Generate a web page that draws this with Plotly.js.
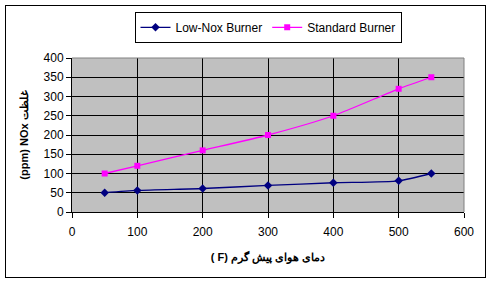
<!DOCTYPE html>
<html>
<head>
<meta charset="utf-8">
<script src="https://cdn.plot.ly/plotly-3.0.1.min.js"></script>
<style>
html,body{margin:0;padding:0;background:#fff;}
#wrap{position:relative;width:492px;height:283px;}
#chart{width:492px;height:283px;}
#frame{position:absolute;left:5px;top:5px;width:479px;height:271px;border:1px solid #000;pointer-events:none;}
</style>
</head>
<body>
<div id="wrap"><div id="chart"></div><div id="frame"></div></div>
<script>
const temps = [50, 100, 200, 300, 400, 500, 550];
const lowNox = [50, 56, 61, 69, 76, 81, 100];
const standard = [100, 120, 160, 200, 250, 320, 350];
const seriesNames = ["Low-Nox Burner", "Standard Burner"];
const xTitle = "( F) دمای هوای پیش گرم";
const yTitle = "(ppm) NOx غلظت";

const font = "Liberation Sans, Arial, sans-serif";
const traces = [
  {x: temps, y: lowNox, name: seriesNames[0], type: "scatter", mode: "lines+markers",
   line: {color: "#000080", width: 1.3, shape: "spline", smoothing: 0.6},
   marker: {symbol: "diamond", size: 6.5, color: "#000080"}},
  {x: temps, y: standard, name: seriesNames[1], type: "scatter", mode: "lines+markers",
   line: {color: "#FF00FF", width: 1.3, shape: "spline", smoothing: 0.6},
   marker: {symbol: "square", size: 6, color: "#FF00FF"}}
];
const layout = {
  width: 492, height: 283,
  margin: {l: 72, r: 28, t: 55, b: 71},
  paper_bgcolor: "#fff", plot_bgcolor: "#C0C0C0",
  font: {family: font, size: 12, color: "#000"},
  showlegend: true,
  legend: {orientation: "h", x: 0.5, xanchor: "center", y: 1.3, yanchor: "top",
    bordercolor: "#000", borderwidth: 1, bgcolor: "#fff",
    font: {family: font, size: 12, color: "#000"}, itemwidth: 30, tracegroupgap: 0},
  xaxis: {range: [0, 600], tickvals: [0,100,200,300,400,500,600], showgrid: true, gridcolor: "#000", gridwidth: 1,
    zeroline: false, showline: true, linecolor: "#000", linewidth: 1, ticks: "outside", ticklen: 5, tickcolor: "#000",
    mirror: false, tickfont: {family: font, size: 12}, ticklabelstandoff: 4,
    title: {text: xTitle, font: {family: font, size: 11, weight: "bold"}, standoff: 14}},
  yaxis: {range: [0, 400], tickvals: [0,50,100,150,200,250,300,350,400], showgrid: true, gridcolor: "#000", gridwidth: 1,
    zeroline: false, showline: true, linecolor: "#000", linewidth: 1, ticks: "outside", ticklen: 5, tickcolor: "#000",
    tickfont: {family: font, size: 12},
    title: {text: yTitle, font: {family: font, size: 11, weight: "bold"}, standoff: 12}},
  shapes: [
    {type: "line", xref: "paper", yref: "paper", x0: 0, x1: 1, y0: 1, y1: 1, line: {color: "#808080", width: 1}},
    {type: "line", xref: "paper", yref: "paper", x0: 1, x1: 1, y0: 0, y1: 1, line: {color: "#808080", width: 1}}
  ]
};
Plotly.newPlot("chart", traces, layout, {staticPlot: true, displayModeBar: false});
</script>
</body>
</html>
